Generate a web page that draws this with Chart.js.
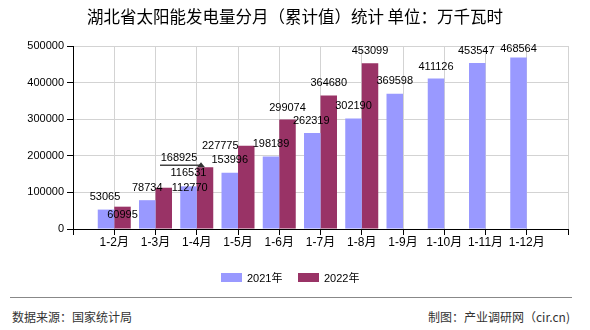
<!DOCTYPE html>
<html>
<head>
<meta charset="utf-8">
<script src="https://cdn.jsdelivr.net/npm/chart.js@4/dist/chart.umd.min.js"></script>
<style>
  body { margin: 0; background: #fff; }
  #wrap { position: relative; width: 590px; height: 330px; background: #fff; overflow: hidden; }
  #chart { position: absolute; left: 0; top: 0; }
  #title { position: absolute; left: 0; top: 7px; width: 590px; text-align: center; font: 16.5px/19px "Noto Sans CJK SC", sans-serif; color: #000; white-space: nowrap; }
  .rule { position: absolute; left: 10px; top: 297px; width: 562px; height: 0; border-top: 1px solid #888; }
  .foot { position: absolute; top: 309px; font: 12px/16px "Noto Sans CJK SC", sans-serif; color: #333; white-space: nowrap; }
  #src { left: 12px; }
  #by { right: 20px; }
  .key { position: absolute; top: 273px; width: 21px; height: 9px; }
  .keytxt { position: absolute; top: 271px; font: 11px/14px "Liberation Sans", "Noto Sans CJK SC", sans-serif; color: #000; white-space: nowrap; }
</style>
</head>
<body>
<div id="wrap">
  <canvas id="chart" width="590" height="295"></canvas>
  <div id="title">湖北省太阳能发电量分月（累计值）统计 单位：万千瓦时</div>
  <div id="legend"></div>
  <div class="rule"></div>
  <div class="foot" id="src">数据来源：国家统计局</div>
  <div class="foot" id="by">制图：产业调研网（cir.cn)</div>
</div>
<script>
// categories and values
const categories = ['1-2月', '1-3月', '1-4月', '1-5月', '1-6月', '1-7月', '1-8月', '1-9月', '1-10月', '1-11月', '1-12月'];
const values2021 = [53065, 78734, 116531, 153996, 198189, 262319, 302190, 369598, 411126, 453547, 468564];
const values2022 = [60995, 112770, 168925, 227775, 299074, 364680, 453099];
const seriesNames = ['2021年', '2022年'];
const seriesColors = ['#9999ff', '#993366'];
const yTicks = [0, 100000, 200000, 300000, 400000, 500000];

// where each value label sits relative to the top of its bar (the source chart shuffles a few)
const offsets2021 = [[-1, -13], [0, -12], [0, -13], [0, -13], [0, -12], [-1, -12], [0, -12], [0, -13], [0, -12], [-1, -12], [0, -9]];
const offsets2022 = [[0, 8], [26, 0], [-26, -9], [-26, 0], [0, -12], [0, -13], [0, -12]];
const labelOffsets = [offsets2021, offsets2022];

const FONT = '"Liberation Sans", "Noto Sans CJK SC", sans-serif';

// empty slot on each side, the source axis runs half a step wider
const labels = ['', ...categories, ''];
const pad = (arr) => {
    const out = [null, ...arr];
    while (out.length < labels.length) out.push(null);
    return out;
};

const barLabels = {
    id: 'barLabels',
    afterDatasetsDraw(chart) {
        const ctx = chart.ctx;
        ctx.save();
        ctx.font = '11px ' + FONT;
        ctx.fillStyle = '#000';
        ctx.textAlign = 'center';
        ctx.textBaseline = 'middle';
        chart.data.datasets.forEach((ds, di) => {
            const meta = chart.getDatasetMeta(di);
            meta.data.forEach((bar, i) => {
                const v = ds.data[i];
                if (v == null) return;
                const [dx, dy] = labelOffsets[di][i - 1] || [0, -12];
                ctx.fillText(String(v), bar.x + dx, bar.y + dy);
            });
        });

        // little pointer mark under the 1-4月 label
        const b = chart.getDatasetMeta(1).data[3];
        if (b) {
            const [dx, dy] = offsets2022[2];
            const cx = b.x + dx, cy = b.y + dy;
            ctx.strokeStyle = '#444';
            ctx.lineWidth = 1.5;
            ctx.beginPath();
            ctx.moveTo(cx - 19, cy + 7);
            ctx.lineTo(cx + 21, cy + 7);
            ctx.stroke();
            ctx.fillStyle = '#333';
            ctx.beginPath();
            ctx.moveTo(cx + 22, cy + 4);
            ctx.lineTo(cx + 18, cy + 9);
            ctx.lineTo(cx + 26, cy + 9);
            ctx.closePath();
            ctx.fill();
        }
        ctx.restore();
    }
};

new Chart(document.getElementById('chart'), {
    type: 'bar',
    data: {
        labels: labels,
        datasets: [
            { label: seriesNames[0], data: pad(values2021), backgroundColor: seriesColors[0] },
            { label: seriesNames[1], data: pad(values2022), backgroundColor: seriesColors[1] }
        ]
    },
    options: {
        responsive: false,
        animation: false,
        events: [],
        categoryPercentage: 0.8,
        barPercentage: 1.0,
        layout: { padding: { left: 0, right: 22, top: 46, bottom: 33 } },
        scales: {
            x: {
                offset: false,
                grid: { offset: false, color: '#d3d3d3', tickColor: '#000', tickLength: 6 },
                border: { color: '#000' },
                ticks: { autoSkip: false, maxRotation: 0, padding: 0, color: '#000', font: { size: 12, family: FONT } },
                afterFit: (scale) => { scale.height = 33; }
            },
            y: {
                min: 0,
                max: 500000,
                grid: { color: '#d3d3d3', tickColor: '#000', tickLength: 6 },
                border: { color: '#000' },
                ticks: { padding: 3, color: '#000', font: { size: 11, family: FONT }, callback: (v) => String(v) },
                afterBuildTicks: (scale) => { scale.ticks = yTicks.map(v => ({ value: v })); },
                afterFit: (scale) => { scale.width = 73; }
            }
        },
        plugins: {
            title: { display: false },
            legend: { display: false },
            tooltip: { enabled: false }
        }
    },
    plugins: [barLabels]
});

// legend under the plot, same place as the source
const legendEl = document.getElementById('legend');
const keyLeft = [221, 298];
seriesNames.forEach((name, i) => {
    legendEl.innerHTML += `
    <div class="key" style="left: ${keyLeft[i]}px; background: ${seriesColors[i]};"></div>
    <div class="keytxt" style="left: ${keyLeft[i] + 26}px;">${name}</div>
    `;
});
</script>
</body>
</html>
